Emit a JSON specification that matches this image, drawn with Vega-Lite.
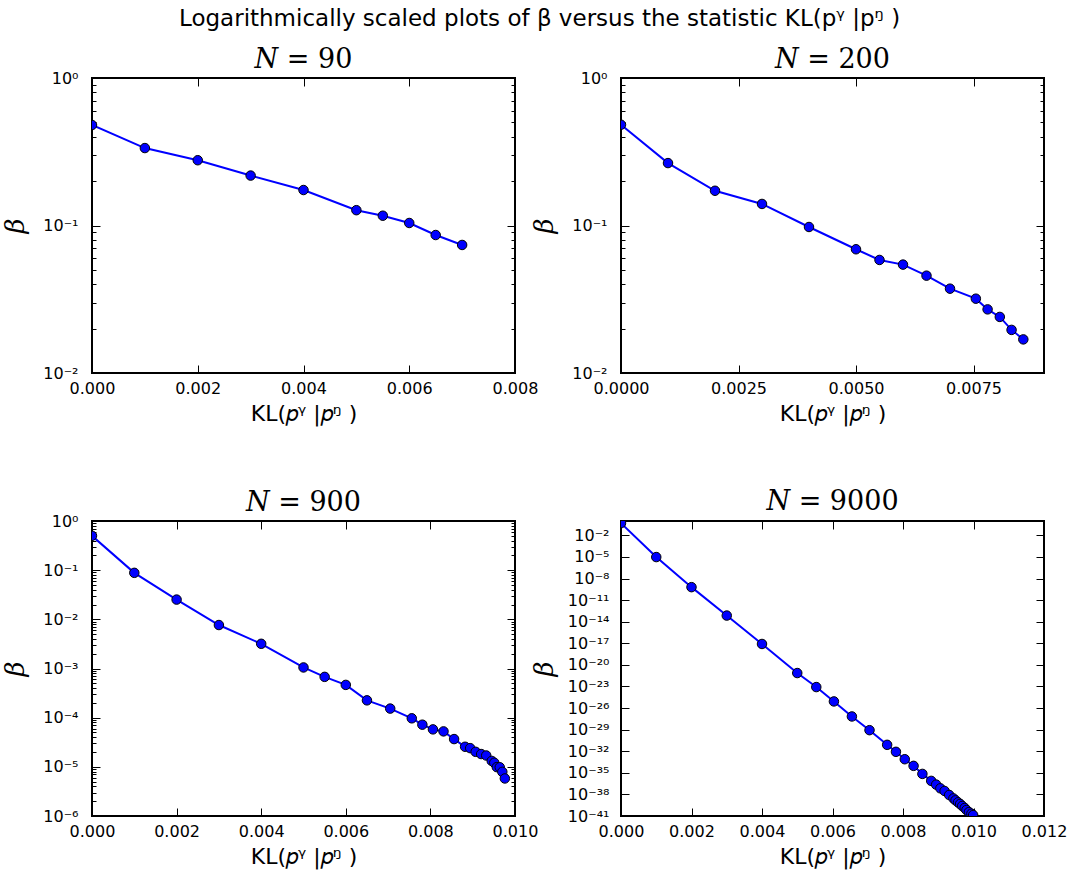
{
  "$schema": "https://vega.github.io/schema/vega-lite/v6.json",
  "padding": {"left": 1, "top": 8, "right": 5, "bottom": 5},
  "title": {"text": "Logarithmically scaled plots of β versus the statistic KL(pᵞ |pᵑ )", "font": "DejaVu Sans", "fontSize": 23, "fontWeight": "normal", "anchor": "start", "frame": "group", "dx": 87, "offset": 14, "color": "black"},
  "data": {"values": [
    {"N": 90, "kl": 0, "beta": 0.48},
    {"N": 90, "kl": 0.001, "beta": 0.335},
    {"N": 90, "kl": 0.002, "beta": 0.277},
    {"N": 90, "kl": 0.003, "beta": 0.218},
    {"N": 90, "kl": 0.004, "beta": 0.174},
    {"N": 90, "kl": 0.005, "beta": 0.127},
    {"N": 90, "kl": 0.0055, "beta": 0.1165},
    {"N": 90, "kl": 0.006, "beta": 0.104},
    {"N": 90, "kl": 0.0065, "beta": 0.0862},
    {"N": 90, "kl": 0.007, "beta": 0.0738},
    {"N": 200, "kl": 0, "beta": 0.482},
    {"N": 200, "kl": 0.001, "beta": 0.265},
    {"N": 200, "kl": 0.002, "beta": 0.172},
    {"N": 200, "kl": 0.003, "beta": 0.14},
    {"N": 200, "kl": 0.004, "beta": 0.0977},
    {"N": 200, "kl": 0.005, "beta": 0.069},
    {"N": 200, "kl": 0.0055, "beta": 0.0584},
    {"N": 200, "kl": 0.006, "beta": 0.0543},
    {"N": 200, "kl": 0.0065, "beta": 0.0457},
    {"N": 200, "kl": 0.007, "beta": 0.0373},
    {"N": 200, "kl": 0.00755, "beta": 0.0319},
    {"N": 200, "kl": 0.0078, "beta": 0.027},
    {"N": 200, "kl": 0.00806, "beta": 0.024},
    {"N": 200, "kl": 0.00831, "beta": 0.0196},
    {"N": 200, "kl": 0.00856, "beta": 0.0169},
    {"N": 900, "kl": 0, "beta": 0.5},
    {"N": 900, "kl": 0.001, "beta": 0.0882},
    {"N": 900, "kl": 0.002, "beta": 0.0252},
    {"N": 900, "kl": 0.003, "beta": 0.00766},
    {"N": 900, "kl": 0.004, "beta": 0.00318},
    {"N": 900, "kl": 0.005, "beta": 0.00105},
    {"N": 900, "kl": 0.0055, "beta": 0.000676},
    {"N": 900, "kl": 0.006, "beta": 0.000464},
    {"N": 900, "kl": 0.0065, "beta": 0.000225},
    {"N": 900, "kl": 0.00705, "beta": 0.000153},
    {"N": 900, "kl": 0.00756, "beta": 0.000097},
    {"N": 900, "kl": 0.00781, "beta": 0.000072},
    {"N": 900, "kl": 0.00806, "beta": 0.0000578},
    {"N": 900, "kl": 0.00831, "beta": 0.0000526},
    {"N": 900, "kl": 0.00856, "beta": 0.0000367},
    {"N": 900, "kl": 0.00882, "beta": 0.0000256},
    {"N": 900, "kl": 0.00894, "beta": 0.000024},
    {"N": 900, "kl": 0.00907, "beta": 0.0000202},
    {"N": 900, "kl": 0.0092, "beta": 0.0000182},
    {"N": 900, "kl": 0.00932, "beta": 0.000017},
    {"N": 900, "kl": 0.00945, "beta": 0.0000132},
    {"N": 900, "kl": 0.00951, "beta": 0.0000121},
    {"N": 900, "kl": 0.00957, "beta": 0.00000986},
    {"N": 900, "kl": 0.00964, "beta": 0.0000098},
    {"N": 900, "kl": 0.0097, "beta": 0.0000079},
    {"N": 900, "kl": 0.00976, "beta": 0.0000058},
    {"N": 9000, "kl": 0, "beta": 0.5},
    {"N": 9000, "kl": 0.001, "beta": 9.7e-6},
    {"N": 9000, "kl": 0.002, "beta": 6.4e-10},
    {"N": 9000, "kl": 0.003, "beta": 7.2e-14},
    {"N": 9000, "kl": 0.004, "beta": 8.1e-18},
    {"N": 9000, "kl": 0.005, "beta": 7.4e-22},
    {"N": 9000, "kl": 0.00554, "beta": 8.3e-24},
    {"N": 9000, "kl": 0.00604, "beta": 8.4e-26},
    {"N": 9000, "kl": 0.00655, "beta": 6.8e-28},
    {"N": 9000, "kl": 0.00705, "beta": 8.5e-30},
    {"N": 9000, "kl": 0.00755, "beta": 7.8e-32},
    {"N": 9000, "kl": 0.0078, "beta": 8.3e-33},
    {"N": 9000, "kl": 0.00805, "beta": 7.8e-34},
    {"N": 9000, "kl": 0.0083, "beta": 9.3e-35},
    {"N": 9000, "kl": 0.00855, "beta": 7.1e-36},
    {"N": 9000, "kl": 0.0088, "beta": 7.6e-37},
    {"N": 9000, "kl": 0.00894, "beta": 2.3e-37},
    {"N": 9000, "kl": 0.00906, "beta": 7.0e-38},
    {"N": 9000, "kl": 0.00918, "beta": 3.0e-38},
    {"N": 9000, "kl": 0.00931, "beta": 8.4e-39},
    {"N": 9000, "kl": 0.00943, "beta": 2.8e-39},
    {"N": 9000, "kl": 0.00949, "beta": 1.5e-39},
    {"N": 9000, "kl": 0.00956, "beta": 8.0e-40},
    {"N": 9000, "kl": 0.00962, "beta": 4.7e-40},
    {"N": 9000, "kl": 0.00968, "beta": 2.5e-40},
    {"N": 9000, "kl": 0.00975, "beta": 1.3e-40},
    {"N": 9000, "kl": 0.0098, "beta": 6.8e-41},
    {"N": 9000, "kl": 0.00987, "beta": 3.5e-41},
    {"N": 9000, "kl": 0.00994, "beta": 2.1e-41},
    {"N": 9000, "kl": 0.00999, "beta": 1.35e-41}
  ]},
  "columns": 2,
  "spacing": {"row": 148, "column": 106},
  "bounds": "flush",
  "concat": [
    {
      "width": 423, "height": 295,
      "title": {"text": "𝑁 = 90"},
      "transform": [{"filter": "datum.N == 90"}],
      "layer": [
        {"mark": {"type": "line", "color": "#0000ff", "strokeWidth": 2, "clip": true},
         "encoding": {
           "x": {"field": "kl", "type": "quantitative", "scale": {"domain": [0, 0.008], "nice": false, "zero": false},
                 "axis": {"orient": "bottom", "values": [0, 0.002, 0.004, 0.006, 0.008], "format": ".3f", "tickSize": -8, "labelPadding": 15, "titlePadding": 7, "title": "KL(𝑝ᵞ |𝑝ᵑ )"}},
           "y": {"field": "beta", "type": "quantitative", "scale": {"type": "log", "domain": [0.01, 1], "nice": false},
                 "axis": {"orient": "left", "title": "β", "values": [0.01, 0.02, 0.03, 0.04, 0.05, 0.06, 0.07, 0.08, 0.09, 0.1, 0.2, 0.3, 0.4, 0.5, 0.6, 0.7, 0.8, 0.9, 1],
                          "tickSize": {"condition": {"test": "abs(log(datum.value)/LN10 - round(log(datum.value)/LN10)) < 0.01", "value": -8}, "value": -4},
                          "labelExpr": "abs(log(datum.value)/LN10 - round(log(datum.value)/LN10)) < 0.01 ? '10' + (round(log(datum.value)/LN10) < 0 ? '⁻' : '') + (abs(round(log(datum.value)/LN10)) >= 10 ? substring('⁰¹²³⁴⁵⁶⁷⁸⁹', floor(abs(round(log(datum.value)/LN10))/10), floor(abs(round(log(datum.value)/LN10))/10) + 1) : '') + substring('⁰¹²³⁴⁵⁶⁷⁸⁹', abs(round(log(datum.value)/LN10)) % 10, abs(round(log(datum.value)/LN10)) % 10 + 1) : ''",
                          "labelPadding": 22, "titlePadding": 14}}
         }},
        {"mark": {"type": "point", "shape": "circle", "filled": true, "fill": "#0000ff", "stroke": "black", "strokeWidth": 1, "size": 90, "opacity": 1, "clip": true},
         "encoding": {
           "x": {"field": "kl", "type": "quantitative", "axis": {"orient": "top", "values": [0, 0.002, 0.004, 0.006, 0.008], "labels": false, "tickSize": -8, "title": null}},
           "y": {"field": "beta", "type": "quantitative", "axis": {"orient": "right", "title": null, "labels": false, "values": [0.01, 0.02, 0.03, 0.04, 0.05, 0.06, 0.07, 0.08, 0.09, 0.1, 0.2, 0.3, 0.4, 0.5, 0.6, 0.7, 0.8, 0.9, 1],
                 "tickSize": {"condition": {"test": "abs(log(datum.value)/LN10 - round(log(datum.value)/LN10)) < 0.01", "value": -8}, "value": -4}}}
         }}
      ],
      "resolve": {"axis": {"x": "independent", "y": "independent"}}
    },
    {
      "width": 423, "height": 295,
      "title": {"text": "𝑁 = 200"},
      "transform": [{"filter": "datum.N == 200"}],
      "layer": [
        {"mark": {"type": "line", "color": "#0000ff", "strokeWidth": 2, "clip": true},
         "encoding": {
           "x": {"field": "kl", "type": "quantitative", "scale": {"domain": [0, 0.009], "nice": false, "zero": false},
                 "axis": {"orient": "bottom", "values": [0, 0.0025, 0.005, 0.0075], "format": ".4f", "tickSize": -8, "labelPadding": 15, "titlePadding": 7, "title": "KL(𝑝ᵞ |𝑝ᵑ )"}},
           "y": {"field": "beta", "type": "quantitative", "scale": {"type": "log", "domain": [0.01, 1], "nice": false},
                 "axis": {"orient": "left", "title": "β", "values": [0.01, 0.02, 0.03, 0.04, 0.05, 0.06, 0.07, 0.08, 0.09, 0.1, 0.2, 0.3, 0.4, 0.5, 0.6, 0.7, 0.8, 0.9, 1],
                          "tickSize": {"condition": {"test": "abs(log(datum.value)/LN10 - round(log(datum.value)/LN10)) < 0.01", "value": -8}, "value": -4},
                          "labelExpr": "abs(log(datum.value)/LN10 - round(log(datum.value)/LN10)) < 0.01 ? '10' + (round(log(datum.value)/LN10) < 0 ? '⁻' : '') + (abs(round(log(datum.value)/LN10)) >= 10 ? substring('⁰¹²³⁴⁵⁶⁷⁸⁹', floor(abs(round(log(datum.value)/LN10))/10), floor(abs(round(log(datum.value)/LN10))/10) + 1) : '') + substring('⁰¹²³⁴⁵⁶⁷⁸⁹', abs(round(log(datum.value)/LN10)) % 10, abs(round(log(datum.value)/LN10)) % 10 + 1) : ''",
                          "labelPadding": 22, "titlePadding": 14}}
         }},
        {"mark": {"type": "point", "shape": "circle", "filled": true, "fill": "#0000ff", "stroke": "black", "strokeWidth": 1, "size": 90, "opacity": 1, "clip": true},
         "encoding": {
           "x": {"field": "kl", "type": "quantitative", "axis": {"orient": "top", "values": [0, 0.0025, 0.005, 0.0075], "labels": false, "tickSize": -8, "title": null}},
           "y": {"field": "beta", "type": "quantitative", "axis": {"orient": "right", "title": null, "labels": false, "values": [0.01, 0.02, 0.03, 0.04, 0.05, 0.06, 0.07, 0.08, 0.09, 0.1, 0.2, 0.3, 0.4, 0.5, 0.6, 0.7, 0.8, 0.9, 1],
                 "tickSize": {"condition": {"test": "abs(log(datum.value)/LN10 - round(log(datum.value)/LN10)) < 0.01", "value": -8}, "value": -4}}}
         }}
      ],
      "resolve": {"axis": {"x": "independent", "y": "independent"}}
    },
    {
      "width": 423, "height": 295,
      "title": {"text": "𝑁 = 900"},
      "transform": [{"filter": "datum.N == 900"}],
      "layer": [
        {"mark": {"type": "line", "color": "#0000ff", "strokeWidth": 2, "clip": true},
         "encoding": {
           "x": {"field": "kl", "type": "quantitative", "scale": {"domain": [0, 0.01], "nice": false, "zero": false},
                 "axis": {"orient": "bottom", "values": [0, 0.002, 0.004, 0.006, 0.008, 0.01], "format": ".3f", "tickSize": -8, "labelPadding": 15, "titlePadding": 7, "title": "KL(𝑝ᵞ |𝑝ᵑ )"}},
           "y": {"field": "beta", "type": "quantitative", "scale": {"type": "log", "domain": [0.000001, 1], "nice": false},
                 "axis": {"orient": "left", "title": "β", "values": [1e-6, 2e-6, 3e-6, 4e-6, 5e-6, 6e-6, 7e-6, 8e-6, 9e-6, 1e-5, 2e-5, 3e-5, 4e-5, 5e-5, 6e-5, 7e-5, 8e-5, 9e-5, 1e-4, 2e-4, 3e-4, 4e-4, 5e-4, 6e-4, 7e-4, 8e-4, 9e-4, 1e-3, 2e-3, 3e-3, 4e-3, 5e-3, 6e-3, 7e-3, 8e-3, 9e-3, 0.01, 0.02, 0.03, 0.04, 0.05, 0.06, 0.07, 0.08, 0.09, 0.1, 0.2, 0.3, 0.4, 0.5, 0.6, 0.7, 0.8, 0.9, 1],
                          "tickSize": {"condition": {"test": "abs(log(datum.value)/LN10 - round(log(datum.value)/LN10)) < 0.01", "value": -8}, "value": -4},
                          "labelExpr": "abs(log(datum.value)/LN10 - round(log(datum.value)/LN10)) < 0.01 ? '10' + (round(log(datum.value)/LN10) < 0 ? '⁻' : '') + (abs(round(log(datum.value)/LN10)) >= 10 ? substring('⁰¹²³⁴⁵⁶⁷⁸⁹', floor(abs(round(log(datum.value)/LN10))/10), floor(abs(round(log(datum.value)/LN10))/10) + 1) : '') + substring('⁰¹²³⁴⁵⁶⁷⁸⁹', abs(round(log(datum.value)/LN10)) % 10, abs(round(log(datum.value)/LN10)) % 10 + 1) : ''",
                          "labelPadding": 22, "titlePadding": 14}}
         }},
        {"mark": {"type": "point", "shape": "circle", "filled": true, "fill": "#0000ff", "stroke": "black", "strokeWidth": 1, "size": 90, "opacity": 1, "clip": true},
         "encoding": {
           "x": {"field": "kl", "type": "quantitative", "axis": {"orient": "top", "values": [0, 0.002, 0.004, 0.006, 0.008, 0.01], "labels": false, "tickSize": -8, "title": null}},
           "y": {"field": "beta", "type": "quantitative", "axis": {"orient": "right", "title": null, "labels": false, "values": [1e-6, 2e-6, 3e-6, 4e-6, 5e-6, 6e-6, 7e-6, 8e-6, 9e-6, 1e-5, 2e-5, 3e-5, 4e-5, 5e-5, 6e-5, 7e-5, 8e-5, 9e-5, 1e-4, 2e-4, 3e-4, 4e-4, 5e-4, 6e-4, 7e-4, 8e-4, 9e-4, 1e-3, 2e-3, 3e-3, 4e-3, 5e-3, 6e-3, 7e-3, 8e-3, 9e-3, 0.01, 0.02, 0.03, 0.04, 0.05, 0.06, 0.07, 0.08, 0.09, 0.1, 0.2, 0.3, 0.4, 0.5, 0.6, 0.7, 0.8, 0.9, 1],
                 "tickSize": {"condition": {"test": "abs(log(datum.value)/LN10 - round(log(datum.value)/LN10)) < 0.01", "value": -8}, "value": -4}}}
         }}
      ],
      "resolve": {"axis": {"x": "independent", "y": "independent"}}
    },
    {
      "width": 423, "height": 295,
      "title": {"text": "𝑁 = 9000", "offset": 5},
      "transform": [{"filter": "datum.N == 9000"}],
      "layer": [
        {"mark": {"type": "line", "color": "#0000ff", "strokeWidth": 2, "clip": true},
         "encoding": {
           "x": {"field": "kl", "type": "quantitative", "scale": {"domain": [0, 0.012], "nice": false, "zero": false},
                 "axis": {"orient": "bottom", "values": [0, 0.002, 0.004, 0.006, 0.008, 0.01, 0.012], "format": ".3f", "tickSize": -8, "labelPadding": 15, "titlePadding": 7, "title": "KL(𝑝ᵞ |𝑝ᵑ )"}},
           "y": {"field": "beta", "type": "quantitative", "scale": {"type": "log", "domain": [1e-41, 1], "nice": false},
                 "axis": {"orient": "left", "title": "β", "values": [1e-2, 1e-5, 1e-8, 1e-11, 1e-14, 1e-17, 1e-20, 1e-23, 1e-26, 1e-29, 1e-32, 1e-35, 1e-38, 1e-41],
                          "tickSize": -8,
                          "labelExpr": "'10' + (round(log(datum.value)/LN10) < 0 ? '⁻' : '') + (abs(round(log(datum.value)/LN10)) >= 10 ? substring('⁰¹²³⁴⁵⁶⁷⁸⁹', floor(abs(round(log(datum.value)/LN10))/10), floor(abs(round(log(datum.value)/LN10))/10) + 1) : '') + substring('⁰¹²³⁴⁵⁶⁷⁸⁹', abs(round(log(datum.value)/LN10)) % 10, abs(round(log(datum.value)/LN10)) % 10 + 1)",
                          "labelPadding": 20, "titlePadding": 10}}
         }},
        {"mark": {"type": "point", "shape": "circle", "filled": true, "fill": "#0000ff", "stroke": "black", "strokeWidth": 1, "size": 90, "opacity": 1, "clip": true},
         "encoding": {
           "x": {"field": "kl", "type": "quantitative", "axis": {"orient": "top", "values": [0, 0.002, 0.004, 0.006, 0.008, 0.01, 0.012], "labels": false, "tickSize": -8, "title": null}},
           "y": {"field": "beta", "type": "quantitative", "axis": {"orient": "right", "title": null, "labels": false, "values": [1e-2, 1e-5, 1e-8, 1e-11, 1e-14, 1e-17, 1e-20, 1e-23, 1e-26, 1e-29, 1e-32, 1e-35, 1e-38, 1e-41], "tickSize": -8}}
         }}
      ],
      "resolve": {"axis": {"x": "independent", "y": "independent"}}
    }
  ],
  "config": {
    "view": {"stroke": "black", "strokeWidth": 2},
    "font": "DejaVu Sans",
    "title": {"font": "DejaVu Serif", "fontSize": 27, "fontWeight": "normal", "color": "black", "offset": -4},
    "axis": {"domain": false, "grid": false, "labelFont": "DejaVu Sans", "labelFontSize": 16, "labelColor": "black", "tickColor": "black", "tickWidth": 1, "labelFlush": false, "labelOverlap": false, "titleColor": "black", "titleFontWeight": "normal", "titleFont": "DejaVu Sans", "titleFontSize": 22},
    "axisY": {"titleFont": "DejaVu Serif", "titleFontStyle": "italic", "titleFontSize": 26}
  }
}
